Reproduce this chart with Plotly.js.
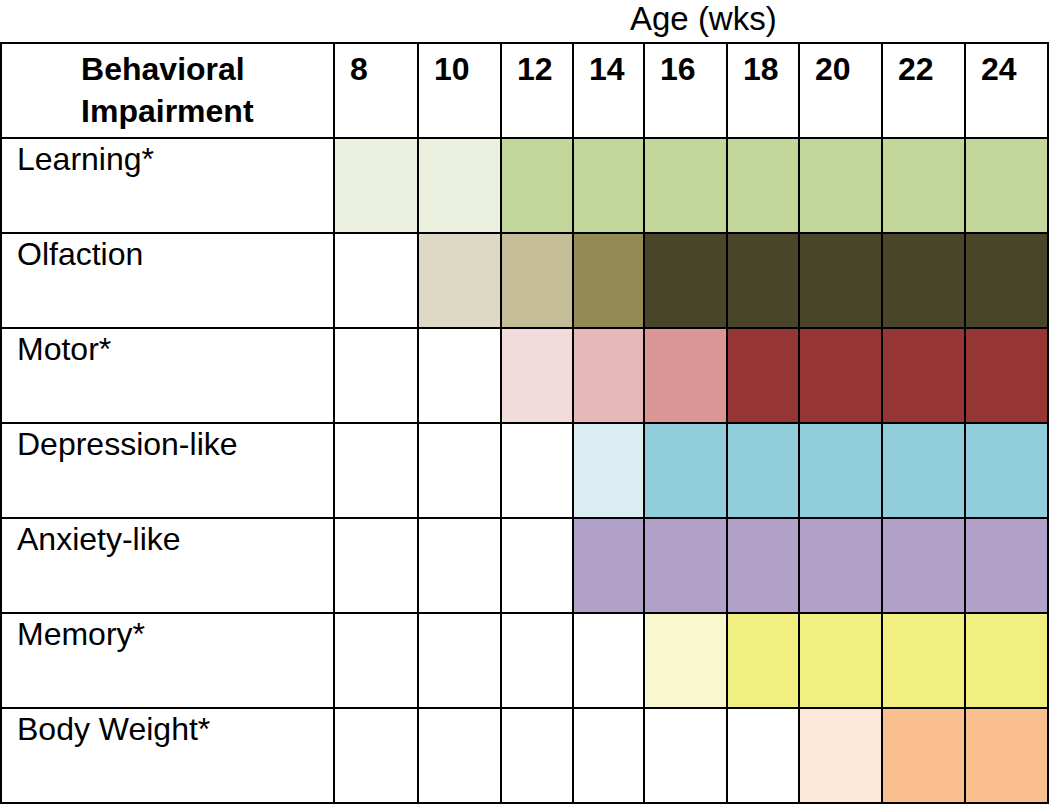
<!DOCTYPE html>
<html>
<head>
<meta charset="utf-8">
<script src="https://cdn.plot.ly/plotly-3.0.1.min.js"></script>
<style>html,body{margin:0;padding:0;background:#fff;}#chart{width:1050px;height:807px;}</style>
</head>
<body>
<div id="chart"></div>
<script>
// Data
const ages = ["8", "10", "12", "14", "16", "18", "20", "22", "24"];
const behaviors = ["Learning*", "Olfaction", "Motor*", "Depression-like", "Anxiety-like", "Memory*", "Body Weight*"];
// impairment level per age (0 = none)
const learning   = [1, 1, 2, 2, 2, 2, 2, 2, 2];
const olfaction  = [0, 1, 2, 3, 4, 4, 4, 4, 4];
const motor      = [0, 0, 1, 2, 3, 4, 4, 4, 4];
const depression = [0, 0, 0, 1, 2, 2, 2, 2, 2];
const anxiety    = [0, 0, 0, 1, 1, 1, 1, 1, 1];
const memory     = [0, 0, 0, 0, 1, 2, 2, 2, 2];
const bodyWeight = [0, 0, 0, 0, 0, 0, 1, 2, 2];
const levels = [learning, olfaction, motor, depression, anxiety, memory, bodyWeight];

// Styles
const palettes = [
  ["#ffffff", "#ebf1de", "#c4d79b"],
  ["#ffffff", "#ddd9c4", "#c4bd97", "#948a54", "#494529"],
  ["#ffffff", "#f2dcdb", "#e6b8b7", "#da9694", "#963634"],
  ["#ffffff", "#daeef3", "#92cddc"],
  ["#ffffff", "#b1a0c7"],
  ["#ffffff", "#f9f7ce", "#f1ef80"],
  ["#ffffff", "#fde9d9", "#fabf8f"]
];
const colWidths = [333, 84, 83, 72, 71, 83, 72, 83, 83, 83];
const PAD = "\u2005";
const FONT = "Liberation Sans, Arial, sans-serif";

const headerVals = ["<b>Behavioral<br>Impairment</b>"].concat(ages.map(a => "<b>" + PAD + a + "</b>"));
const cellVals = [behaviors.map(b => PAD + b)].concat(ages.map(() => behaviors.map(() => "")));
const cellFill = [behaviors.map(() => "#ffffff")].concat(
  ages.map((a, j) => levels.map((row, i) => palettes[i][row[j]]))
);

const trace = {
  type: "table",
  columnwidth: colWidths,
  domain: {x: [0, 1], y: [0, 1]},
  header: {
    values: headerVals,
    align: ["center"].concat(ages.map(() => "left")),
    height: 95,
    fill: {color: "#ffffff"},
    line: {color: "#000000", width: 2},
    font: {family: FONT, size: 32, color: "#000000"}
  },
  cells: {
    values: cellVals,
    align: "left",
    height: 95,
    fill: {color: cellFill},
    line: {color: "#000000", width: 2},
    font: {family: FONT, size: 32, color: "#000000"}
  }
};

const layout = {
  width: 1050,
  height: 807,
  margin: {l: 1, r: 2, t: 43, b: 2, pad: 0},
  paper_bgcolor: "#ffffff",
  annotations: [{
    text: "Age (wks)",
    xref: "paper", yref: "paper",
    x: 0.6705, y: 1, yshift: 5,
    xanchor: "center", yanchor: "bottom",
    borderpad: 0,
    showarrow: false,
    font: {family: FONT, size: 33, color: "#000000"}
  }]
};

Plotly.newPlot("chart", [trace], layout, {displayModeBar: false, staticPlot: true});
</script>
</body>
</html>
